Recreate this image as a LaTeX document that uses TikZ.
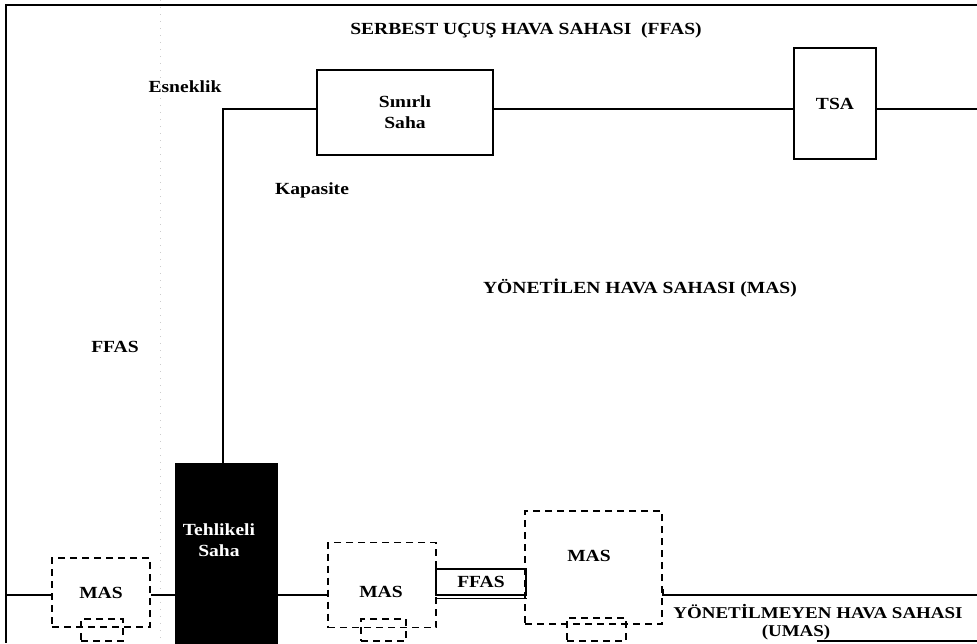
\documentclass[tikz,border=0pt]{standalone}
\usepackage{fontspec}
\setmainfont{Liberation Serif}[FakeStretch=1.15]
\begin{document}
\begin{tikzpicture}[x=1pt,y=-1pt,
  ln/.style={line width=1.6pt},
  solidbox/.style={draw, line width=1.6pt, rectangle, inner sep=0pt},
  dashbox/.style={draw, line width=1.6pt, rectangle, inner sep=0pt, dash pattern=on 7pt off 5pt},
  lbl/.style={font=\fontsize{17}{21}\selectfont\bfseries, inner sep=0pt, align=center},
]
\useasboundingbox (0,0) rectangle (977,643);
% faint scan line
\draw[gray!40, line width=0.6pt, dash pattern=on 1pt off 6pt] (160,0) -- (160,643);
% outer frame
\draw[ln] (977,5) -- (6,5) -- (6,643);
% boxes
\node[solidbox, minimum width=176pt, minimum height=85pt, lbl] (sinirli) at (405,112.5) {Sınırlı\\Saha};
\node[solidbox, minimum width=82pt, minimum height=111pt, lbl] (tsa) at (835,103.5) {TSA};
\node[draw, fill=black, line width=1pt, minimum width=102pt, minimum height=190pt, inner sep=0pt] (tehlike) at (226,558) {};
\node[lbl, text=white] (tehlikelbl) at (219,540) {Tehlikeli\\Saha};
\node[dashbox, minimum width=98pt, minimum height=69pt, lbl] (mas1) at (101,592.5) {MAS};
\node[dashbox, minimum width=42pt, minimum height=22pt] (mas1s) at (102,630) {};
\node[dashbox, minimum width=108pt, minimum height=85pt] (mas2) at (382,585) {};
\node[lbl] (mas2lbl) at (381,592) {MAS};
\node[dashbox, minimum width=45pt, minimum height=22pt] (mas2s) at (383.5,630) {};
\node[solidbox, minimum width=90pt, minimum height=26pt, lbl] (ffasbox) at (481,582) {FFAS};
\node[dashbox, minimum width=137pt, minimum height=113pt] (mas3) at (593.5,567.5) {};
\node[lbl] (mas3lbl) at (589,556) {MAS};
\node[dashbox, minimum width=59pt, minimum height=23pt] (mas3s) at (596.5,629.5) {};
\draw[line width=1.2pt] ([yshift=-2.5pt]ffasbox.south west) -- ([yshift=-2.5pt]ffasbox.south east);
% connectors
\coordinate (corner) at (223,109);
\coordinate (rightend) at (977,109);
\coordinate (leftbot) at (6,595);
\coordinate (umasend) at (977,595);
\draw[ln] (tehlike.north -| corner) -- (corner) -- (sinirli.west |- corner);
\draw[ln] (sinirli.east |- corner) -- (tsa.west |- corner);
\draw[ln] (tsa.east |- corner) -- (rightend);
\draw[ln] (leftbot) -- (mas1.west |- leftbot);
\draw[ln] (mas1.east |- leftbot) -- (tehlike.west |- leftbot);
\draw[ln] (tehlike.east |- leftbot) -- (mas2.west |- leftbot);
\draw[ln] ([yshift=6pt]mas3.east |- umasend) -- (mas3.east |- umasend) -- (umasend);
\draw[ln] (817,641) -- (977,641);
% labels
\node[lbl] (ffashead) at (526,30) {SERBEST UÇUŞ HAVA SAHASI \ (FFAS)};
\node[lbl] (esnek) at (185,87) {Esneklik};
\node[lbl] (kapasite) at (312,190) {Kapasite};
\node[lbl] (mas) at (640,288) {YÖNETİLEN HAVA SAHASI (MAS)};
\node[lbl] (ffasleft) at (115,347) {FFAS};
\node[lbl, font=\fontsize{16.5}{20}\selectfont\bfseries] (umas) at (818,612) {YÖNETİLMEYEN HAVA SAHASI};
\node[lbl, font=\fontsize{16.5}{20}\selectfont\bfseries] (umas2) at (796,633) {(UMAS)};
\end{tikzpicture}
\end{document}
